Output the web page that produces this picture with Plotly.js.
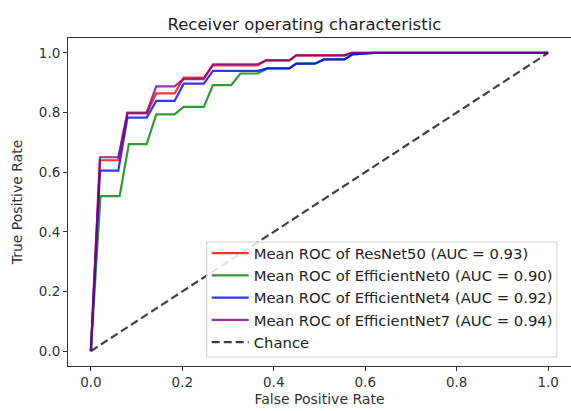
<!DOCTYPE html>
<html>
<head>
<meta charset="utf-8">
<script src="https://cdn.plot.ly/plotly-3.0.1.min.js"></script>
<style>html,body{margin:0;padding:0;background:#fff;}#chart{width:571px;height:411px;}</style>
</head>
<body>
<div id="chart"></div>
<script>
// Mean ROC curves
const resnet50_fpr = [0, 0.02, 0.06, 0.08, 0.122, 0.143, 0.183, 0.203, 0.247, 0.267, 0.365, 0.383, 0.434, 0.449, 0.555, 0.57, 1.0];
const resnet50_tpr = [0, 0.64, 0.64, 0.797, 0.797, 0.864, 0.864, 0.917, 0.917, 0.958, 0.958, 0.975, 0.975, 0.992, 0.992, 1.0, 1.0];

const effnet0_fpr = [0, 0.021, 0.063, 0.083, 0.122, 0.143, 0.183, 0.203, 0.247, 0.267, 0.307, 0.327, 0.365, 0.386, 0.434, 0.449, 0.49, 0.51, 0.555, 0.572, 0.62, 1.0];
const effnet0_tpr = [0, 0.52, 0.52, 0.694, 0.694, 0.794, 0.794, 0.819, 0.819, 0.892, 0.892, 0.931, 0.931, 0.948, 0.948, 0.964, 0.964, 0.978, 0.978, 0.995, 1.0, 1.0];

const effnet4_fpr = [0, 0.02, 0.06, 0.08, 0.122, 0.143, 0.183, 0.203, 0.247, 0.267, 0.365, 0.386, 0.434, 0.449, 0.49, 0.51, 0.555, 0.572, 0.62, 1.0];
const effnet4_tpr = [0, 0.605, 0.605, 0.783, 0.783, 0.839, 0.839, 0.897, 0.897, 0.94, 0.94, 0.948, 0.948, 0.964, 0.964, 0.978, 0.978, 0.995, 1.0, 1.0];

const effnet7_fpr = [0, 0.02, 0.06, 0.08, 0.122, 0.143, 0.183, 0.203, 0.247, 0.267, 0.365, 0.383, 0.434, 0.449, 0.555, 0.57, 1.0];
const effnet7_tpr = [0, 0.65, 0.65, 0.80, 0.80, 0.888, 0.888, 0.912, 0.912, 0.962, 0.962, 0.975, 0.975, 0.992, 0.992, 1.0, 1.0];

const chance_x = [0, 1];
const chance_y = [0, 1];

const seriesNames = [
  'Mean ROC of ResNet50 (AUC = 0.93)',
  'Mean ROC of EfficientNet0 (AUC = 0.90)',
  'Mean ROC of EfficientNet4 (AUC = 0.92)',
  'Mean ROC of EfficientNet7 (AUC = 0.94)',
  'Chance'
];
const tickVals = [0, 0.2, 0.4, 0.6, 0.8, 1.0];

const colors = ['rgba(255,0,0,0.8)', 'rgba(0,128,0,0.8)', 'rgba(0,0,255,0.8)', 'rgba(128,0,128,0.8)'];
const xs = [resnet50_fpr, effnet0_fpr, effnet4_fpr, effnet7_fpr];
const ys = [resnet50_tpr, effnet0_tpr, effnet4_tpr, effnet7_tpr];

const traces = xs.map((x, i) => ({
  x: x, y: ys[i], type: 'scatter', mode: 'lines', name: seriesNames[i],
  line: {color: colors[i], width: 2.2}
}));
traces.push({
  x: chance_x, y: chance_y, type: 'scatter', mode: 'lines', name: seriesNames[4],
  line: {color: 'rgba(0,0,0,0.75)', width: 2.2, dash: '8px,4px'}
});

const FONT = 'DejaVu Sans, sans-serif';
const axisCommon = {
  range: [-0.05, 1.05], tickvals: tickVals, ticktext: tickVals.map(v => v.toFixed(1)),
  showgrid: false, zeroline: false, showline: true, mirror: true,
  linecolor: '#333', linewidth: 1, ticks: 'outside', ticklen: 4, tickwidth: 1, tickcolor: '#333',
  tickfont: {family: FONT, size: 13.5, color: '#333'}
};

const layout = {
  width: 571, height: 411,
  margin: {l: 68, r: 0, t: 38, b: 45},
  paper_bgcolor: '#fff', plot_bgcolor: '#fff',
  showlegend: true,
  title: {text: 'Receiver operating characteristic', x: 0.47, xref: 'paper', y: 0.955, yref: 'container',
          font: {family: FONT, size: 16.5, color: '#222'}},
  xaxis: Object.assign({}, axisCommon, {title: {text: 'False Positive Rate', font: {family: FONT, size: 14, color: '#333'}, standoff: 4}}),
  yaxis: Object.assign({}, axisCommon, {title: {text: 'True Positive Rate', font: {family: FONT, size: 14, color: '#333'}, standoff: 12}}),
  // legend frame (matplotlib style box) drawn as a shape behind the legend entries
  shapes: [{type: 'rect', xref: 'paper', yref: 'paper', x0: 0.2758, x1: 0.972, y0: 0.0274, y1: 0.378,
            line: {color: '#d0d0d0', width: 1}, fillcolor: 'rgba(255,255,255,0.85)', layer: 'above'}],
  legend: {x: 0.2758, y: 0.393, xanchor: 'left', yanchor: 'top', itemwidth: 37,
           bgcolor: 'rgba(0,0,0,0)', borderwidth: 0,
           font: {family: FONT, size: 14.8, color: '#222'}}
};

Plotly.newPlot('chart', traces, layout, {displayModeBar: false, staticPlot: true});
</script>
</body>
</html>
